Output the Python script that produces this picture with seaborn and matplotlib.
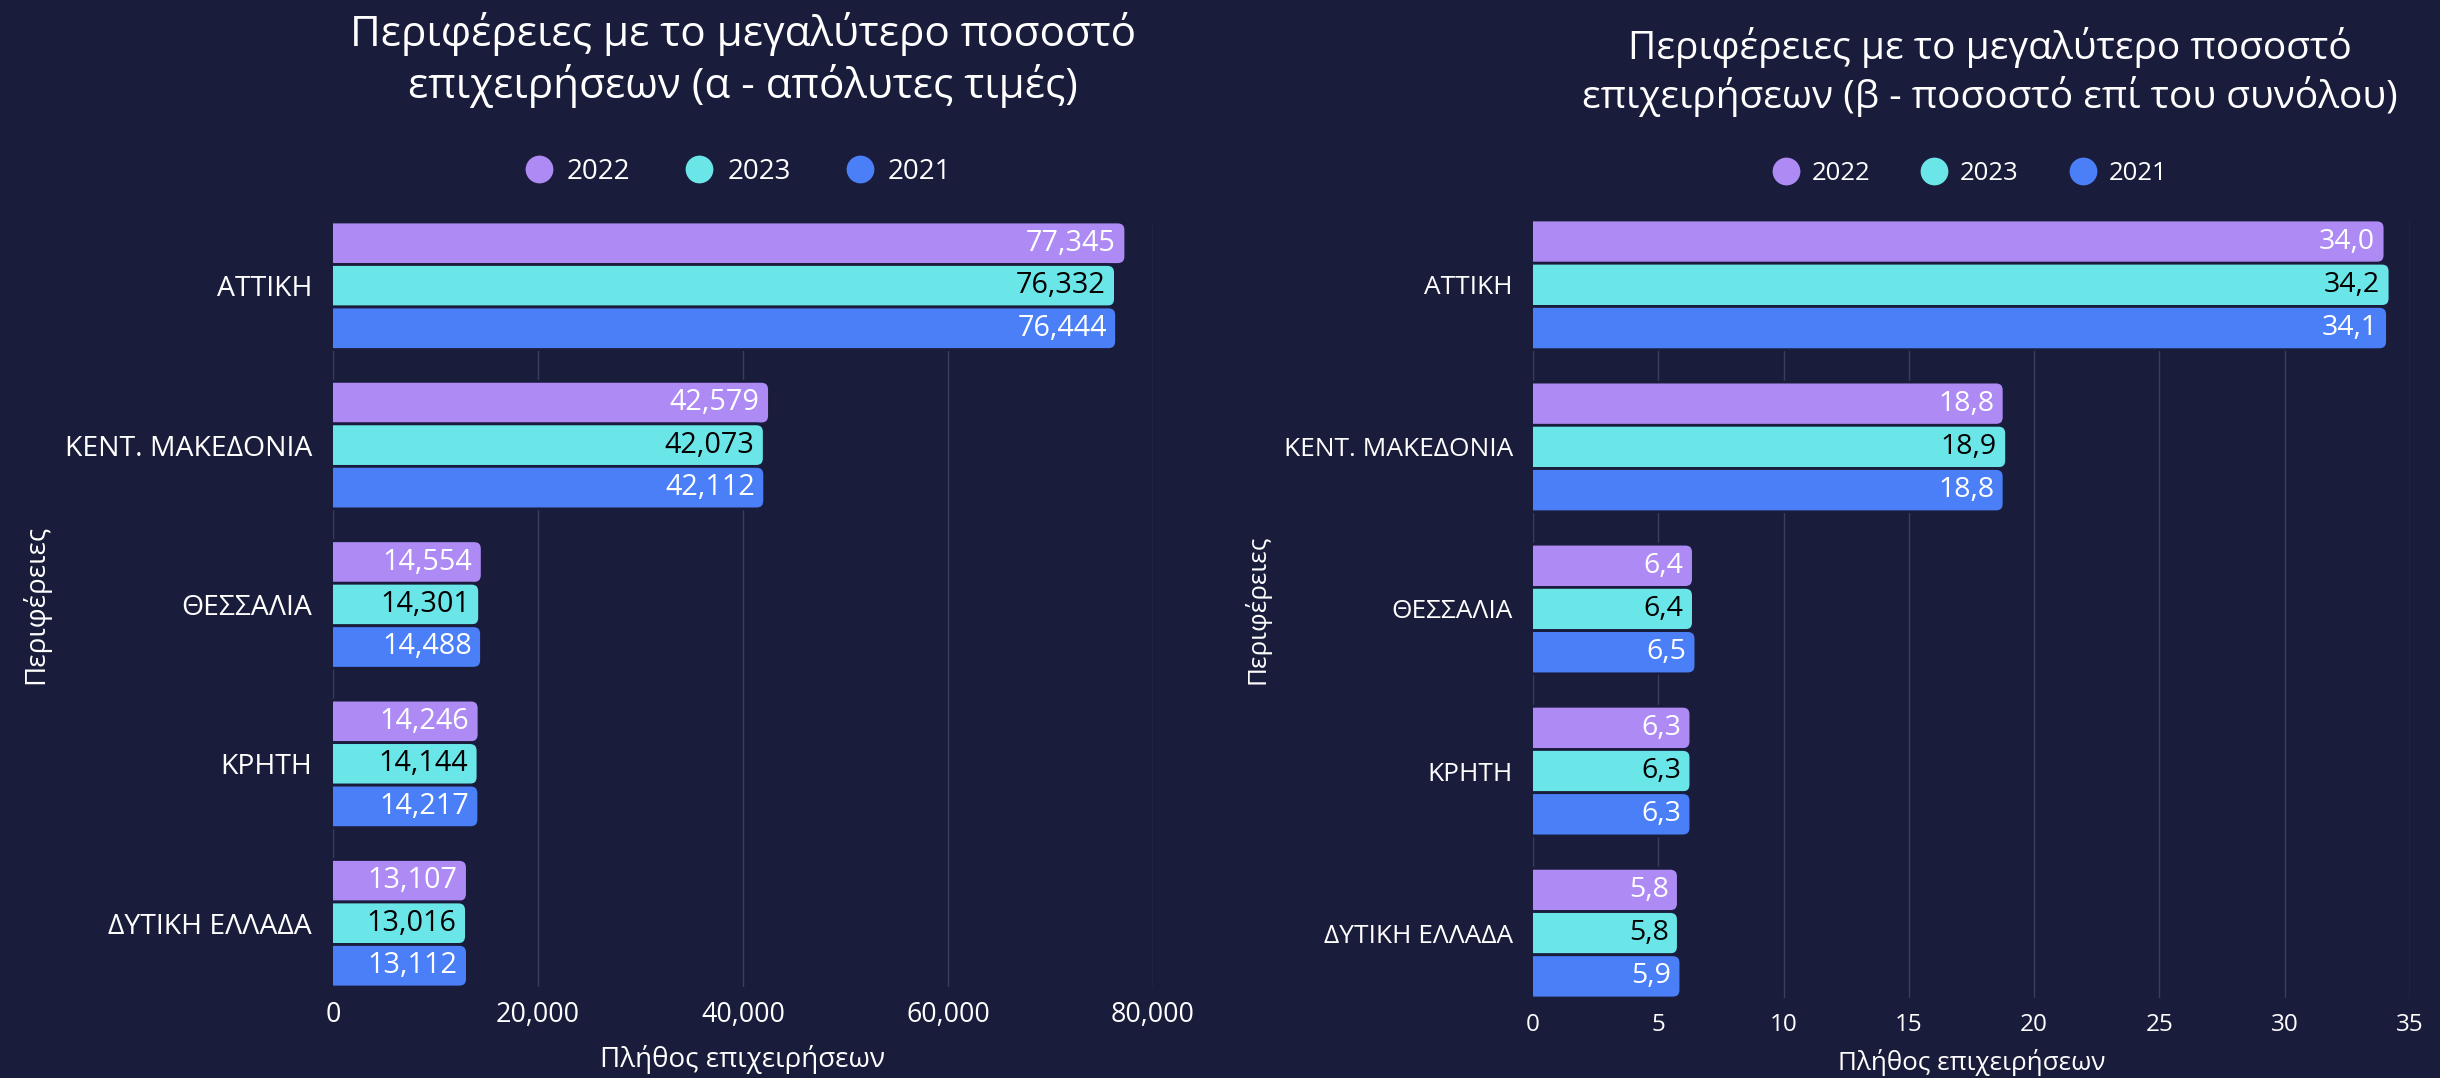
import matplotlib
matplotlib.use("Agg")
import matplotlib.pyplot as plt
import pandas as pd
import seaborn as sns
from matplotlib.lines import Line2D
from matplotlib.patches import FancyBboxPatch
from matplotlib.ticker import FuncFormatter

W, H = 2440, 1078
BG = "#1a1c3b"
GRID = "#3a3d5e"
ZERO = "#6c6e88"

REGIONS = ["ΑΤΤΙΚΗ", "ΚΕΝΤ. ΜΑΚΕΔΟΝΙΑ", "ΘΕΣΣΑΛΙΑ", "ΚΡΗΤΗ", "ΔΥΤΙΚΗ ΕΛΛΑΔΑ"]
YEARS = ["2022", "2023", "2021"]
COLORS = ["#ae8bf4", "#6ae5e8", "#4a7ff7"]
TEXT_COLORS = ["white", "black", "white"]

# (α) absolute values per year
ABS_2022 = [77345, 42579, 14554, 14246, 13107]
ABS_2023 = [76332, 42073, 14301, 14144, 13016]
ABS_2021 = [76444, 42112, 14488, 14217, 13112]

# (β) share of total, %
PCT_2022 = [34.0, 18.8, 6.4, 6.3, 5.8]
PCT_2023 = [34.2, 18.9, 6.4, 6.3, 5.8]
PCT_2021 = [34.1, 18.8, 6.5, 6.3, 5.9]

TITLE_A = "Περιφέρειες με το μεγαλύτερο ποσοστό\nεπιχειρήσεων (α - απόλυτες τιμές)"
TITLE_B = "Περιφέρειες με το μεγαλύτερο ποσοστό\nεπιχειρήσεων (β - ποσοστό επί του συνόλου)"
XLABEL = "Πλήθος επιχειρήσεων"
YLABEL = "Περιφέρειες"


def long_frame(*series):
    rows = []
    for year, vals in zip(YEARS, series):
        for region, v in zip(REGIONS, vals):
            rows.append({"region": region, "year": year, "value": v})
    return pd.DataFrame(rows)


sns.set_theme(style="dark")
plt.rcParams["font.family"] = ["Open Sans", "DejaVu Sans"]

fig = plt.figure(figsize=(W / 100, H / 100), dpi=100, facecolor=BG)


def panel(rect, df, xmax, xstep, tick_fmt, val_fmt, sizes, label_pos):
    ax = fig.add_axes(rect, facecolor=BG)
    sns.barplot(
        data=df, y="region", x="value", hue="year", hue_order=YEARS,
        palette=dict(zip(YEARS, COLORS)), orient="h", saturation=1,
        width=0.8, edgecolor=BG, linewidth=2, legend=False, ax=ax,
    )
    ax.set_xlim(0, xmax)
    ax.set_ylim(len(REGIONS) - 0.6, -0.4)
    ax.set_xticks(range(0, int(xmax) + 1, xstep))
    ax.xaxis.set_major_formatter(FuncFormatter(tick_fmt))
    ax.grid(axis="x", color=GRID, linewidth=1)
    ax.grid(axis="y", visible=False)
    ax.set_axisbelow(True)
    ax.axvline(0, color=ZERO, linewidth=1.2, zorder=0.5)
    for s in ax.spines.values():
        s.set_visible(False)
    ax.tick_params(axis="x", length=0, pad=sizes["xpad"], labelsize=sizes["tick"], colors="white")
    ax.tick_params(axis="y", length=0, pad=sizes["ypad"], labelsize=sizes["cat"], colors="white")
    ax.set_xlabel(XLABEL, fontsize=sizes["axis"], color="white")
    ax.set_ylabel(YLABEL, fontsize=sizes["axis"], color="white")
    ax.xaxis.label.set_va("center")
    ax.yaxis.label.set_va("center")
    ax.xaxis.set_label_coords(0.5, label_pos[0])
    ax.yaxis.set_label_coords(label_pos[1], 0.5)

    # value labels inside the bar ends
    for cont, tc in zip(ax.containers, TEXT_COLORS):
        for bar in cont:
            v = bar.get_width()
            ax.annotate(val_fmt(v), xy=(v, bar.get_y() + bar.get_height() / 2),
                        xytext=(-7, 0), textcoords="offset points",
                        ha="right", va="center", color=tc, fontsize=sizes["val"], zorder=5)

    # rounded bar ends
    pos = ax.get_position()
    x_upp = xmax / (pos.width * W)
    y_upp = (len(REGIONS) - 0.2) / (pos.height * H)
    rx = 8 * x_upp
    for p in list(ax.patches):
        x, y, w, h = p.get_x(), p.get_y(), p.get_width(), p.get_height()
        fb = FancyBboxPatch((x - 3 * rx, y), w + 3 * rx, h,
                            boxstyle=f"round,pad=0,rounding_size={rx}",
                            mutation_aspect=y_upp / x_upp,
                            facecolor=p.get_facecolor(), edgecolor=BG, linewidth=2,
                            zorder=2)
        p.remove()
        ax.add_patch(fb)
    return ax


df_a = long_frame(ABS_2022, ABS_2023, ABS_2021)
df_b = long_frame(PCT_2022, PCT_2023, PCT_2021)

ax_a = panel([333 / W, 91 / H, 820 / W, 765 / H], df_a, 80000, 20000,
             lambda v, _: f"{int(v):,}", lambda v: f"{int(round(v)):,}",
             dict(tick=19.4, cat=20.4, axis=20, val=20.7, xpad=10, ypad=15),
             (-0.095, -0.363))
ax_b = panel([1533 / W, 80 / H, 877 / W, 778 / H], df_b, 35, 5,
             lambda v, _: f"{int(v)}", lambda v: f"{v:.1f}".replace(".", ","),
             dict(tick=17.5, cat=18.9, axis=18.7, val=20.5, xpad=11, ypad=14.5),
             (-0.0835, -0.315))

fig.text(743 / W, 1 - 60 / H, TITLE_A, ha="center", va="center", fontsize=30.4,
         color="white", linespacing=1.24)
fig.text(1990 / W, 1 - 72 / H, TITLE_B, ha="center", va="center", fontsize=28,
         color="white", linespacing=1.26)

handles = [Line2D([0], [0], marker="o", ls="", markersize=20, markerfacecolor=c,
                  markeredgewidth=0) for c in COLORS]
for cx, cy, fs in [(738, 172, 20), (1970, 173, 18.5)]:
    fig.legend(handles, YEARS, loc="center", bbox_to_anchor=(cx / W, 1 - cy / H),
               ncol=3, frameon=False, fontsize=fs, labelcolor="white",
               handlelength=1, handletextpad=0.5, columnspacing=2)

fig.savefig("out.png", dpi=100, facecolor=BG)
